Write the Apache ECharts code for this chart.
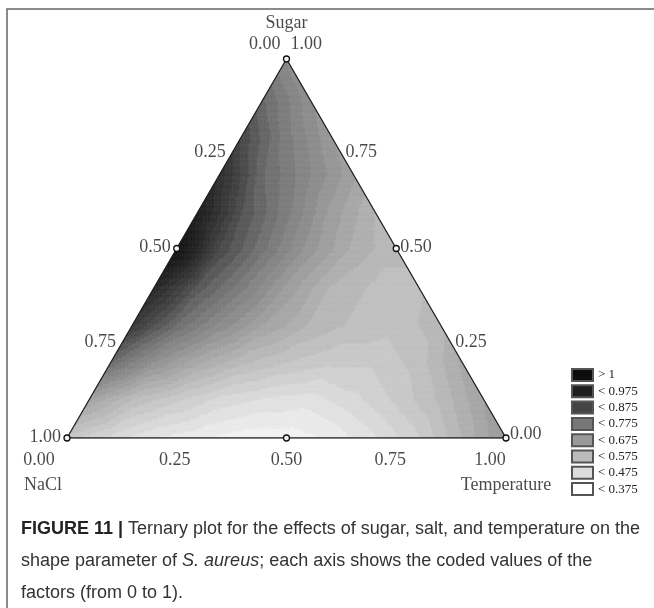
<!DOCTYPE html>
<html><head><meta charset="utf-8">
<script src="https://cdn.jsdelivr.net/npm/echarts@6/dist/echarts.min.js"></script>
<style>html,body{margin:0;padding:0;background:#fff}#c{width:654px;height:608px}</style>
</head><body><div id="c"></div>
<script>
// Shape parameter read at ternary grid points (step 0.1).
// Each row is one sugar level; entries run from temperature 0 upward (NaCl = 1 - sugar - temperature).
const row_s00 = [0.49, 0.44, 0.40, 0.38, 0.36, 0.36, 0.38, 0.42, 0.47, 0.55, 0.63];
const row_s01 = [0.60, 0.52, 0.48, 0.44, 0.42, 0.41, 0.44, 0.48, 0.53, 0.60];
const row_s02 = [0.75, 0.65, 0.58, 0.53, 0.50, 0.48, 0.48, 0.51, 0.58];
const row_s03 = [0.86, 0.75, 0.67, 0.60, 0.55, 0.52, 0.51, 0.54];
const row_s04 = [0.92, 0.79, 0.71, 0.62, 0.55, 0.52, 0.52];
const row_s05 = [1.02, 0.82, 0.73, 0.64, 0.57, 0.53];
const row_s06 = [0.95, 0.80, 0.71, 0.62, 0.55];
const row_s07 = [0.89, 0.75, 0.68, 0.61];
const row_s08 = [0.82, 0.71, 0.63];
const row_s09 = [0.75, 0.66];
const row_s10 = [0.67];

// Design points (sugar, NaCl, temperature)
const designPoints = [[1,0,0],[0.5,0.5,0],[0,1,0],[0,0.5,0.5],[0,0,1],[0.5,0,0.5]];

// Axis ticks
const tickValues = [0, 0.25, 0.5, 0.75, 1];
const tickLabels = ['0.00', '0.25', '0.50', '0.75', '1.00'];
const axisNames = ['Sugar', 'NaCl', 'Temperature'];

// Legend classes
const legendLabels = ['> 1', '< 0.975', '< 0.875', '< 0.775', '< 0.675', '< 0.575', '< 0.475', '< 0.375'];
const legendColors = ['#0d0d0d', '#1f1f1f', '#444444', '#777777', '#999999', '#bbbbbb', '#dddddd', '#ffffff'];

// Value -> grey scale used for the shading
const scaleValues = [0.325, 0.425, 0.525, 0.625, 0.725, 0.825, 0.925, 1.025];
const scaleGreys  = [255, 221, 187, 153, 119, 68, 34, 15];
const bandStep = 0.025;

const rows = [row_s00,row_s01,row_s02,row_s03,row_s04,row_s05,row_s06,row_s07,row_s08,row_s09,row_s10];
const N = 10;
const SQ = Math.sqrt(3) / 2;
function tern(s, t) { return [t + s / 2, s * SQ]; }
function gridPt(i, j) { return tern(i / N, j / N); }

const cells = [];
for (let i = 0; i < N; i++) {
  for (let j = 0; j <= N - 1 - i; j++) {
    cells.push([...gridPt(i, j), rows[i][j], ...gridPt(i, j + 1), rows[i][j + 1], ...gridPt(i + 1, j), rows[i + 1][j]]);
    if (i + j + 2 <= N) {
      cells.push([...gridPt(i, j + 1), rows[i][j + 1], ...gridPt(i + 1, j), rows[i + 1][j], ...gridPt(i + 1, j + 1), rows[i + 1][j + 1]]);
    }
  }
}

function greyOf(v) {
  const q = (Math.floor(v / bandStep) + 0.5) * bandStep;
  let g;
  if (q <= scaleValues[0]) g = scaleGreys[0];
  else if (q >= scaleValues[scaleValues.length - 1]) g = scaleGreys[scaleGreys.length - 1];
  else {
    for (let k = 0; k < scaleValues.length - 1; k++) {
      if (q >= scaleValues[k] && q <= scaleValues[k + 1]) {
        const f = (q - scaleValues[k]) / (scaleValues[k + 1] - scaleValues[k]);
        g = scaleGreys[k] + f * (scaleGreys[k + 1] - scaleGreys[k]);
        break;
      }
    }
  }
  g = Math.round(g);
  return 'rgb(' + g + ',' + g + ',' + g + ')';
}

const K = 16;
function renderCell(params, api) {
  const A = api.coord([api.value(0), api.value(1)]), va = api.value(2);
  const B = api.coord([api.value(3), api.value(4)]), vb = api.value(5);
  const C = api.coord([api.value(6), api.value(7)]), vc = api.value(8);
  const pt = (a, b) => [A[0] + (B[0] - A[0]) * a / K + (C[0] - A[0]) * b / K,
                        A[1] + (B[1] - A[1]) * a / K + (C[1] - A[1]) * b / K];
  const val = (a, b) => va + (vb - va) * a / K + (vc - va) * b / K;
  const children = [];
  for (let a = 0; a < K; a++) {
    for (let b = 0; a + b < K; b++) {
      const v1 = (val(a, b) + val(a + 1, b) + val(a, b + 1)) / 3;
      const c1 = greyOf(v1);
      children.push({type: 'polygon', shape: {points: [pt(a, b), pt(a + 1, b), pt(a, b + 1)]},
        style: {fill: c1, stroke: c1, lineWidth: 0.6}, silent: true});
      if (a + b + 2 <= K) {
        const v2 = (val(a + 1, b) + val(a + 1, b + 1) + val(a, b + 1)) / 3;
        const c2 = greyOf(v2);
        children.push({type: 'polygon', shape: {points: [pt(a + 1, b), pt(a + 1, b + 1), pt(a, b + 1)]},
          style: {fill: c2, stroke: c2, lineWidth: 0.6}, silent: true});
      }
    }
  }
  return {type: 'group', children};
}

const serif = 'Liberation Serif';
const tickFont = {fontFamily: serif, fontSize: 18, color: '#1a1a1a'};

// Tick label items
const tickItems = [];
const bottomNudge = [-28, -2, 0, -6, -16];
tickValues.forEach((v, k) => {
  // Temperature along the base
  tickItems.push({value: tern(0, v), label: {show: true, formatter: tickLabels[k], position: 'bottom', distance: 13, offset: [bottomNudge[k], 0], ...tickFont}});
  // NaCl along the left edge (NaCl = v means sugar = 1 - v)
  tickItems.push({value: tern(1 - v, 0), label: {show: true, formatter: tickLabels[k], position: 'left', distance: 6, offset: [0, v === 0 ? -15 : -1], ...tickFont}});
  // Sugar along the right edge
  tickItems.push({value: tern(v, 1 - v), label: {show: true, formatter: tickLabels[k], position: 'right', distance: 4, offset: [0, v === 1 ? -15 : (v === 0 ? -4 : -1)], ...tickFont}});
});

// Axis titles anchored at the triangle's vertices
const titleItems = [
  {value: tern(1, 0), label: {show: true, formatter: axisNames[0], position: 'top', distance: 27, ...tickFont}},
  {value: tern(0, 0), label: {show: true, formatter: axisNames[1], position: 'bottom', distance: 38, offset: [-24, 0], ...tickFont}},
  {value: tern(0, 1), label: {show: true, formatter: axisNames[2], position: 'bottom', distance: 38, offset: [0, 0], ...tickFont}}
];

const outline = [tern(0, 0), tern(0, 1), tern(1, 0), tern(0, 0)];
const designXY = designPoints.map(p => tern(p[0], p[2]));

const legendSeries = legendLabels.map((name, k) => ({
  name, type: 'scatter', data: [], itemStyle: {color: legendColors[k], borderColor: '#555', borderWidth: 1, opacity: 1}
}));

const capFont = '18px "Liberation Sans"';
const chart = echarts.init(document.getElementById('c'), null, {renderer: 'canvas'});
chart.setOption({
  animation: false,
  backgroundColor: '#fff',
  grid: {left: 67, top: 59, width: 439, height: 379},
  xAxis: {type: 'value', min: 0, max: 1, show: false},
  yAxis: {type: 'value', min: 0, max: SQ, show: false},
  legend: {
    orient: 'vertical', left: 571, top: 368, itemWidth: 21, itemHeight: 12, itemGap: 2.3,
    icon: 'rect', selectedMode: false, padding: 0,
    textStyle: {fontFamily: serif, fontSize: 13, color: '#222', lineHeight: 14},
    data: legendLabels
  },
  graphic: [
    {type: 'polyline', shape: {points: [[7, 700], [7, 9], [700, 9]]}, style: {stroke: '#666', lineWidth: 1.5, fill: null}, silent: true},
    {type: 'text', left: 21, top: 520, style: {
      text: '{b|FIGURE 11 |} Ternary plot for the effects of sugar, salt, and temperature on the',
      font: capFont, fill: '#333',
      rich: {b: {fontWeight: 'bold', fontFamily: 'Liberation Sans', fontSize: 18, fill: '#222'}}
    }},
    {type: 'text', left: 21, top: 552, style: {
      text: 'shape parameter of {i|S. aureus}; each axis shows the coded values of the',
      font: capFont, fill: '#333',
      rich: {i: {fontStyle: 'italic', fontFamily: 'Liberation Sans', fontSize: 18, fill: '#333'}}
    }},
    {type: 'text', left: 21, top: 584, style: {text: 'factors (from 0 to 1).', font: capFont, fill: '#333'}}
  ],
  series: [
    {type: 'custom', coordinateSystem: 'cartesian2d', renderItem: renderCell, data: cells,
     encode: {x: 0, y: 1}, silent: true, clip: false, z: 1},
    {type: 'line', data: outline, symbol: 'none', lineStyle: {color: '#222', width: 1.3}, silent: true, z: 3},
    {type: 'scatter', data: designXY, symbol: 'circle', symbolSize: 6,
     itemStyle: {color: '#f4f4f4', borderColor: '#111', borderWidth: 1.3, opacity: 1}, silent: true, z: 4},
    {type: 'scatter', data: tickItems, symbolSize: 0, silent: true, z: 5},
    {type: 'scatter', data: titleItems, symbolSize: 0, silent: true, z: 5},
    ...legendSeries
  ]
});
</script></body></html>
